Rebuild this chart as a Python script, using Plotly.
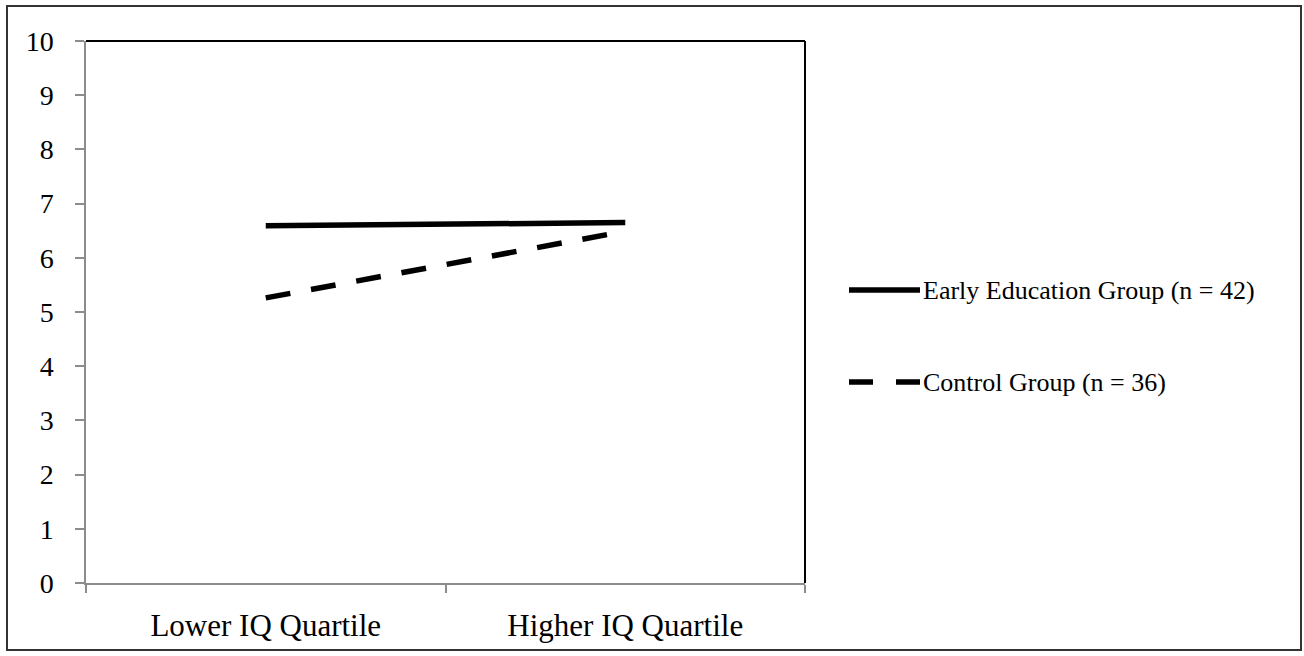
import plotly.graph_objects as go

categories = ["Lower IQ Quartile", "Higher IQ Quartile"]
early_values = [6.59, 6.65]
control_values = [5.26, 6.49]
series_names = ["Early Education Group (n = 42)", "Control Group (n = 36)"]
y_ticks = list(range(0, 11))

W, H = 1304, 656
L, R, T, B = 86, 805, 41, 583
pw, ph = R - L, B - T

def px(x):
    return (x - L) / pw

def py(y):
    return (B - y) / ph

FONT = "Liberation Serif, Times New Roman, serif"

fig = go.Figure()
fig.add_trace(go.Scatter(x=categories, y=early_values, mode="lines",
                         name=series_names[0],
                         line=dict(color="black", width=5.5), showlegend=False))
fig.add_trace(go.Scatter(x=categories, y=control_values, mode="lines",
                         name=series_names[1],
                         line=dict(color="black", width=5.5, dash="25px,21px"),
                         showlegend=False))

shapes = [
    # outer border
    dict(type="rect", xref="paper", yref="paper", x0=px(7), x1=px(1301), y0=py(650), y1=py(6),
         line=dict(color="#333333", width=2), layer="below"),
    # plot-area top/right border
    dict(type="line", xref="paper", yref="paper", x0=0, x1=1, y0=1, y1=1,
         line=dict(color="black", width=2), layer="below"),
    dict(type="line", xref="paper", yref="paper", x0=1, x1=1, y0=0, y1=1,
         line=dict(color="black", width=2), layer="below"),
]
annotations = []
legend_y = [290, 382]
dashes = ["solid", "24px,23px"]
for name, ly, d in zip(series_names, legend_y, dashes):
    shapes.append(dict(type="line", xref="paper", yref="paper", x0=px(849), x1=px(920),
                       y0=py(ly), y1=py(ly), line=dict(color="black", width=5.5, dash=d)))
    annotations.append(dict(text=name, xref="paper", yref="paper", x=px(921), y=py(ly),
                            xanchor="left", yanchor="middle", showarrow=False,
                            font=dict(family=FONT, size=26, color="black")))

fig.update_layout(
    width=W, height=H,
    margin=dict(l=L, r=W - R, t=T, b=H - B, autoexpand=False),
    paper_bgcolor="white", plot_bgcolor="white",
    shapes=shapes, annotations=annotations,
    xaxis=dict(type="category", range=[-0.5, 1.5], tickson="boundaries", ticks="outside",
               ticklen=8, tickcolor="#8c8c8c", tickwidth=1.5, showline=True,
               linecolor="#8c8c8c", linewidth=1.5, showgrid=False, zeroline=False,
               automargin=False,
               tickfont=dict(family=FONT, size=31, color="black"), ticklabelstandoff=14),
    yaxis=dict(range=[0, 10], tickvals=y_ticks, ticks="outside", ticklen=9,
               tickcolor="#8c8c8c", tickwidth=1.5, showline=True, linecolor="#8c8c8c",
               linewidth=1.5, showgrid=False, zeroline=False, automargin=False,
               tickfont=dict(family=FONT, size=28, color="black"), ticklabelstandoff=16),
)

fig.write_html("out.html", config={"displayModeBar": False},
               post_script="document.body.style.margin='0';document.body.style.overflow='hidden';")
